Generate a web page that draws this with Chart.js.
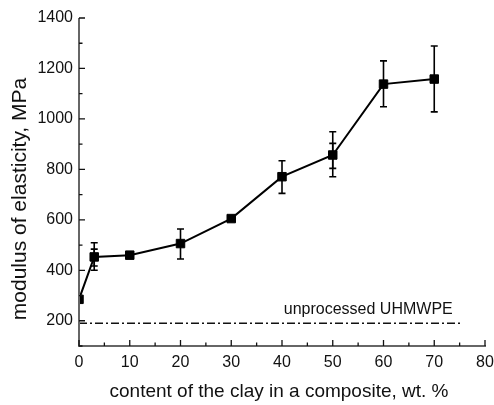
<!DOCTYPE html>
<html>
<head>
<meta charset="utf-8">
<script src="https://cdn.jsdelivr.net/npm/chart.js@4.4.1/dist/chart.umd.min.js"></script>
<style>
  html, body { margin: 0; padding: 0; background: #fff; }
  #wrap { width: 494px; height: 405px; }
</style>
</head>
<body>
<div id="wrap"><canvas id="chart"></canvas></div>
<script>
// ── Data ──
const clayContent = [0, 3, 10, 20, 30, 40, 50, 60, 70];
const modulus     = [285, 453, 460, 506, 605, 771, 857, 1138, 1158];
const errLow      = [null, 400, null, 445, null, 705, 771, 1048, 1028];
const errHigh     = [null, 509, null, 564, null, 834, 949, 1230, 1289];
const innerLow    = [null, 417, null, null, null, null, 804, null, null];
const innerHigh   = [null, 484, null, null, null, null, 903, null, null];

const baseX = [0, 75.5];
const baseY = [190, 190];
const baseLabel = 'unprocessed UHMWPE';

const xTicks = [0, 10, 20, 30, 40, 50, 60, 70, 80];
const xMinor = [5, 15, 25, 35, 45, 55, 65, 75];
const yTicks = [200, 400, 600, 800, 1000, 1200, 1400];
const yMinor = [100, 300, 500, 700, 900, 1100, 1300];

const xTitle = 'content of the clay in a composite, wt. %';
const yTitle = 'modulus of elasticity, MPa';

const FONT = '"Liberation Sans", Arial, sans-serif';

// ── Decorations: error bars, inward ticks, axes, labels ──
const decor = {
    id: 'decor',
    afterDatasetsDraw(chart) {
        const { ctx, scales: { x, y }, chartArea: a } = chart;
        ctx.save();

        // error bars
        function bars(lo, hi) {
            ctx.strokeStyle = '#000';
            ctx.lineWidth = 1.6;
            clayContent.forEach((c, i) => {
                if (lo[i] == null) return;
                const px = x.getPixelForValue(c);
                const y1 = y.getPixelForValue(lo[i]);
                const y2 = y.getPixelForValue(hi[i]);
                ctx.beginPath();
                ctx.moveTo(px, y1); ctx.lineTo(px, y2);
                ctx.moveTo(px - 3.5, y1); ctx.lineTo(px + 3.5, y1);
                ctx.moveTo(px - 3.5, y2); ctx.lineTo(px + 3.5, y2);
                ctx.stroke();
            });
        }
        bars(errLow, errHigh);
        bars(innerLow, innerHigh);

        // axis lines
        ctx.strokeStyle = '#666';
        ctx.lineWidth = 2;
        ctx.beginPath();
        ctx.moveTo(a.left, a.top); ctx.lineTo(a.left, a.bottom + 1);
        ctx.moveTo(a.left - 1, a.bottom); ctx.lineTo(a.right + 1, a.bottom);
        ctx.stroke();

        // inward ticks
        ctx.strokeStyle = '#111';
        ctx.lineWidth = 1.3;
        ctx.beginPath();
        xTicks.forEach(v => { const p = x.getPixelForValue(v); ctx.moveTo(p, a.bottom); ctx.lineTo(p, a.bottom - 6); });
        xMinor.forEach(v => { const p = x.getPixelForValue(v); ctx.moveTo(p, a.bottom); ctx.lineTo(p, a.bottom - 3.5); });
        yTicks.forEach(v => { const p = y.getPixelForValue(v); ctx.moveTo(a.left, p); ctx.lineTo(a.left + 6, p); });
        yMinor.forEach(v => { const p = y.getPixelForValue(v); ctx.moveTo(a.left, p); ctx.lineTo(a.left + 3.5, p); });
        ctx.stroke();

        // reference label
        ctx.fillStyle = '#111';
        ctx.font = '16px ' + FONT;
        ctx.textAlign = 'center';
        ctx.textBaseline = 'middle';
        ctx.fillText(baseLabel, x.getPixelForValue(57), y.getPixelForValue(246));

        // axis titles
        ctx.font = '19px ' + FONT;
        ctx.fillText(xTitle, 279, 392);
        ctx.translate(20, 199);
        ctx.rotate(-Math.PI / 2);
        ctx.font = '21px ' + FONT;
        ctx.fillText(yTitle, 0, 0);
        ctx.restore();
    }
};

new Chart(document.getElementById('chart'), {
    type: 'scatter',
    data: {
        datasets: [
            {
                data: clayContent.map((c, i) => ({ x: c, y: modulus[i] })),
                showLine: true,
                borderColor: '#000',
                borderWidth: 2,
                backgroundColor: '#000',
                pointStyle: 'rect',
                pointRadius: 6,
                pointBorderWidth: 1,
                pointHoverRadius: 6
            },
            {
                data: baseX.map((v, i) => ({ x: v, y: baseY[i] })),
                showLine: true,
                borderColor: '#111',
                borderWidth: 1.4,
                borderDash: [8, 3, 2, 3],
                pointRadius: 0
            }
        ]
    },
    options: {
        responsive: true,
        maintainAspectRatio: false,
        animation: false,
        layout: { padding: { top: 18, right: 9, left: 0, bottom: 0 } },
        plugins: { legend: { display: false }, tooltip: { enabled: false } },
        scales: {
            x: {
                type: 'linear', min: 0, max: 80,
                afterBuildTicks: s => { s.ticks = xTicks.map(v => ({ value: v })); },
                afterFit: s => { s.height = 59; s.paddingRight = 0; s.paddingLeft = 0; },
                grid: { display: false, drawTicks: false },
                border: { display: false },
                ticks: { color: '#111', padding: 7, maxRotation: 0, callback: v => String(v), font: { size: 16, family: FONT } }
            },
            y: {
                type: 'linear', min: 100, max: 1400,
                afterBuildTicks: s => { s.ticks = yTicks.map(v => ({ value: v })); },
                afterFit: s => { s.width = 79; s.paddingTop = 0; s.paddingBottom = 0; },
                grid: { display: false, drawTicks: false },
                border: { display: false },
                ticks: { color: '#111', padding: 6, callback: v => String(v), font: { size: 16, family: FONT } }
            }
        }
    },
    plugins: [decor]
});
</script>
</body>
</html>
